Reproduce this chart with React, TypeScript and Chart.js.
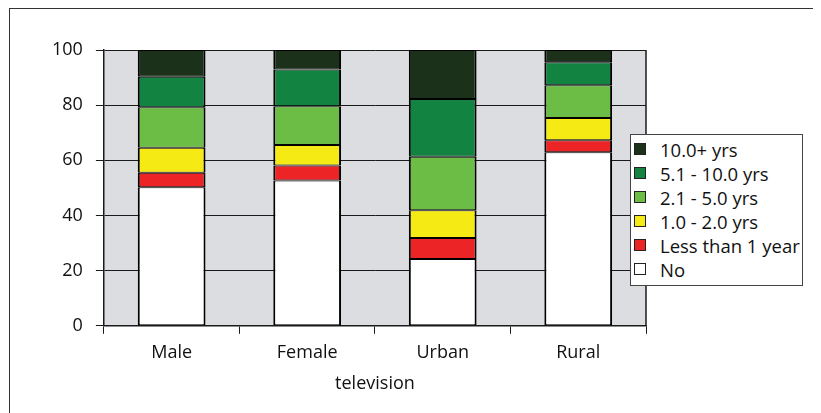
import React, { useEffect, useRef } from "react";
import { Chart, registerables } from "chart.js";

Chart.register(...registerables);

const categories = ["Male", "Female", "Urban", "Rural"];
const seriesNames = ["No", "Less than 1 year", "1.0 - 2.0 yrs", "2.1 - 5.0 yrs", "5.1 - 10.0 yrs", "10.0+ yrs"];
const noValues = [50.2, 52.7, 24.2, 62.9];
const lessThan1Values = [5.3, 5.4, 7.6, 4.4];
const oneToTwoValues = [9.1, 7.5, 10.1, 8.0];
const twoToFiveValues = [14.6, 14.0, 19.4, 11.9];
const fiveToTenValues = [11.1, 13.3, 20.9, 8.4];
const tenPlusValues = [9.7, 7.1, 17.8, 4.4];
const seriesColors = ["#ffffff", "#ed2426", "#f5ea14", "#6bbd45", "#138341", "#1b3119"];
const yTicks = [0, 20, 40, 60, 80, 100];
const xTitle = "television";

const seriesValues = [noValues, lessThan1Values, oneToTwoValues, twoToFiveValues, fiveToTenValues, tenPlusValues];

const FONT = "'Open Sans', sans-serif";

const plotBg = {
  id: "plotBg",
  beforeDraw(chart: any) {
    const { ctx, chartArea } = chart;
    ctx.save();
    ctx.fillStyle = "#dcdde0";
    ctx.fillRect(chartArea.left, chartArea.top, chartArea.right - chartArea.left, chartArea.bottom - chartArea.top);
    ctx.restore();
  },
  beforeDatasetsDraw(chart: any) {
    const { ctx, chartArea } = chart;
    ctx.save();
    ctx.strokeStyle = "#1a1a1a";
    ctx.lineWidth = 1.5;
    ctx.beginPath();
    ctx.moveTo(chartArea.right, chartArea.top);
    ctx.lineTo(chartArea.right, chartArea.bottom);
    ctx.stroke();
    ctx.restore();
  },
};

export default function App() {
  const ref = useRef<HTMLCanvasElement>(null);
  useEffect(() => {
    document.documentElement.style.overflow = "hidden";
    const chart = new Chart(ref.current!, {
      type: "bar",
      data: {
        labels: categories,
        datasets: seriesNames.map((name, i) => ({
          label: name,
          data: seriesValues[i],
          backgroundColor: seriesColors[i],
          borderColor: "#000000",
          borderWidth: { top: 1, bottom: 1, left: 2, right: 2 } as any,
          borderSkipped: false as any,
          barPercentage: 0.5,
          categoryPercentage: 1,
        })),
      },
      options: {
        animation: false,
        responsive: true,
        maintainAspectRatio: false,
        layout: { padding: { left: 31, right: 175, top: 42, bottom: 18 } },
        plugins: { legend: { display: false }, tooltip: { enabled: false } },
        scales: {
          x: {
            stacked: true,
            grid: { display: true, drawOnChartArea: false, drawTicks: true, tickLength: 8, color: "#1a1a1a", offset: true },
            border: { display: true, color: "#1a1a1a", width: 1.5 },
            ticks: { color: "#111", font: { family: FONT, size: 18 }, padding: 8 },
            title: { display: true, text: xTitle, color: "#111", font: { family: FONT, size: 18 }, padding: { top: 2, bottom: 0 } },
          },
          y: {
            stacked: true,
            min: 0,
            max: 100,
            afterBuildTicks: (axis: any) => {
              axis.ticks = yTicks.map((v) => ({ value: v }));
            },
            grid: { color: "#1a1a1a", lineWidth: 1, tickLength: 8, drawTicks: true },
            border: { display: true, color: "#1a1a1a", width: 1.5 },
            ticks: { color: "#111", font: { family: FONT, size: 18 }, padding: 13 },
          },
        },
      },
      plugins: [plotBg],
    });
    return () => chart.destroy();
  }, []);

  const legendOrder = seriesNames.map((_, i) => i).reverse();

  return (
    <div style={{ position: "relative", width: 813, height: 405 }}>
      <div style={{ position: "absolute", left: 1, top: 0, right: 0, bottom: 0, borderLeft: "1px solid #333", borderTop: "1px solid #333" }} />
      <div style={{ position: "absolute", left: 0, top: 0, width: 813, height: 405 }}>
        <canvas ref={ref} />
      </div>
      <div
        style={{
          position: "absolute",
          left: 622,
          top: 126,
          width: 171,
          height: 148,
          border: "1px solid #444",
          background: "#fff",
          paddingTop: 2,
          boxSizing: "content-box",
          fontFamily: FONT,
          fontSize: 18.5,
          color: "#111",
        }}
      >
        {legendOrder.map((i) => (
          <div key={i} style={{ display: "flex", alignItems: "center", height: 24, whiteSpace: "nowrap" }}>
            <span
              style={{
                display: "inline-block",
                width: 12,
                height: 12,
                boxSizing: "border-box",
                border: "1px solid #222",
                background: seriesColors[i],
                marginLeft: 3,
                marginRight: 14,
              }}
            />
            <span>{seriesNames[i]}</span>
          </div>
        ))}
      </div>
    </div>
  );
}
